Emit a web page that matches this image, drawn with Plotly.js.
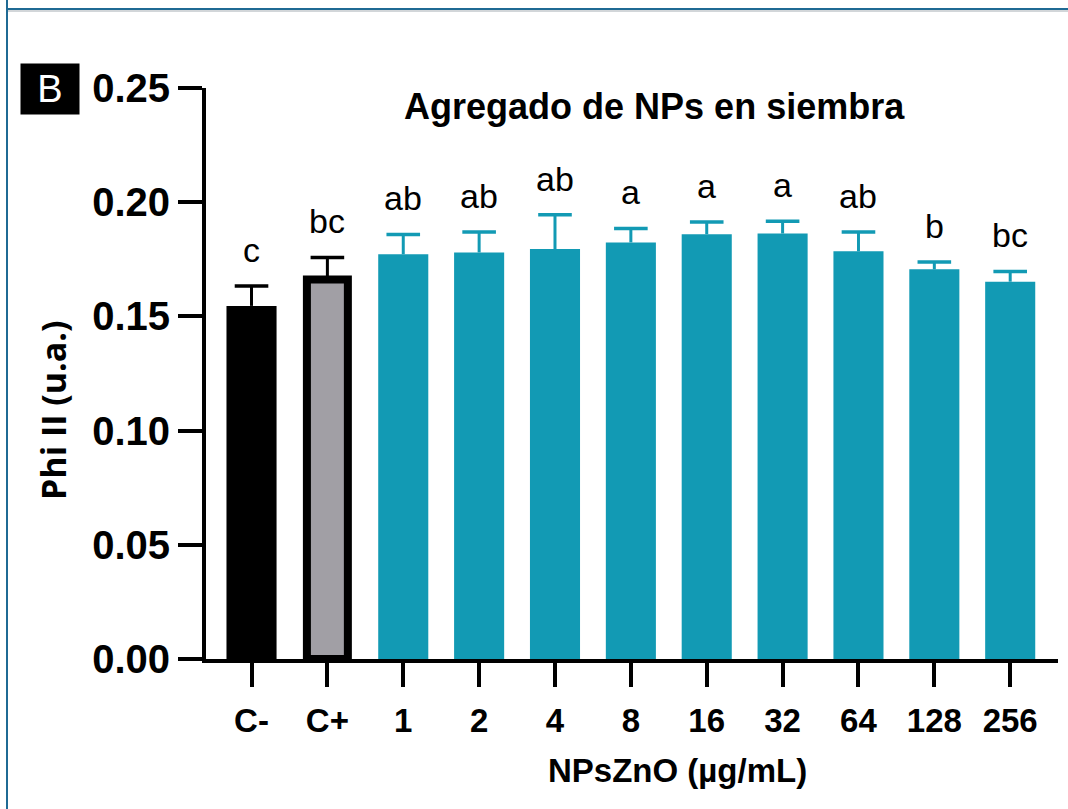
<!DOCTYPE html>
<html>
<head>
<meta charset="utf-8">
<script src="https://cdn.plot.ly/plotly-3.0.1.min.js"></script>
<style>
  html, body { margin: 0; padding: 0; background: #ffffff; }
  #wrap { position: relative; width: 1068px; height: 809px; overflow: hidden; }
  #chart { position: absolute; left: 0; top: 0; width: 1068px; height: 809px; }
  .frameTop { position: absolute; left: 6px; top: 8px; width: 1062px; height: 2px; background: #1f6a94; }
  .frameShadow { position: absolute; left: 8px; top: 10px; width: 1060px; height: 2px; background: #d2d6d9; }
  .frameLeft { position: absolute; left: 6px; top: 0px; width: 2px; height: 809px; background: #1f6a94; }
</style>
</head>
<body>
<div id="wrap">
  <div id="chart"></div>
  <div class="frameShadow"></div>
  <div class="frameTop"></div>
  <div class="frameLeft"></div>
</div>
<script>
// ---- data ----
var categories = ['C-', 'C+', '1', '2', '4', '8', '16', '32', '64', '128', '256'];
var means      = [0.1546, 0.1662, 0.1772, 0.1780, 0.1795, 0.1824, 0.1860, 0.1863, 0.1785, 0.1706, 0.1652];
var sems       = [0.0087, 0.0096, 0.0087, 0.0089, 0.0150, 0.0061, 0.0053, 0.0054, 0.0084, 0.0032, 0.0045];
var letters    = ['c', 'bc', 'ab', 'ab', 'ab', 'a', 'a', 'a', 'ab', 'b', 'bc'];
var yTickVals  = [0, 0.05, 0.10, 0.15, 0.20, 0.25];
var chartTitle = 'Agregado de NPs en siembra';
var xTitle     = 'NPsZnO (µg/mL)';
var yTitle     = 'Phi II (u.a.)';
var panelLabel = 'B';

var TEAL = '#129ab4';

// bars
var traces = [
  {
    type: 'bar', x: categories.slice(0, 1), y: means.slice(0, 1), width: 0.66,
    marker: { color: '#000000', line: { width: 0 } }, hoverinfo: 'x+y'
  },
  {
    type: 'bar', x: categories.slice(1, 2), y: means.slice(1, 2), width: 0.54,
    marker: { color: '#a19fa5', line: { width: 8, color: '#000000' } }, hoverinfo: 'x+y'
  },
  {
    type: 'bar', x: categories.slice(2), y: means.slice(2), width: 0.66,
    marker: { color: TEAL, line: { width: 0 } }, hoverinfo: 'x+y'
  }
];

// upward-only error bars (stem + cap), built from the data arrays
function errorTraces(i0, i1, color) {
  var sx = [], sy = [], cx = [], cy = [];
  for (var i = i0; i < i1; i++) {
    sx.push(categories[i], categories[i], null);
    sy.push(means[i], means[i] + sems[i], null);
    cx.push(categories[i]);
    cy.push(means[i] + sems[i]);
  }
  return [
    { type: 'scatter', mode: 'lines', x: sx, y: sy, line: { color: color, width: 3 }, hoverinfo: 'skip', connectgaps: false },
    { type: 'scatter', mode: 'markers', x: cx, y: cy, hoverinfo: 'skip',
      marker: { symbol: 'line-ew', size: 24, color: color, line: { color: color, width: 3.5 } } }
  ];
}
traces = traces.concat(errorTraces(0, 2, '#000000'), errorTraces(2, categories.length, TEAL));

// category positions by index (numeric strings like '1' would otherwise be read as indices)
var annotations = categories.map(function (c, i) {
  return {
    x: i, y: means[i] + sems[i], xref: 'x', yref: 'y',
    text: letters[i], showarrow: false, yanchor: 'bottom', yshift: 15,
    font: { family: 'Liberation Sans, Arial, sans-serif', size: 34, color: '#000000' }
  };
});

annotations.push({
  xref: 'paper', yref: 'paper', x: -0.1831, y: 0.998, xanchor: 'center', yanchor: 'middle',
  text: panelLabel, showarrow: false, bgcolor: '#000000', width: 56, height: 48,
  font: { family: 'Liberation Sans, Arial, sans-serif', size: 38, color: '#ffffff' }
});
annotations.push({
  xref: 'paper', yref: 'paper', x: -0.1796, y: 0.436, xanchor: 'center', yanchor: 'middle',
  text: '<b>' + yTitle + '</b>', textangle: -90, showarrow: false,
  font: { family: 'Open Sans, Arial, sans-serif', size: 34, color: '#000000' }
});
annotations.push({
  xref: 'paper', yref: 'paper', x: 0.553, y: -0.196, xanchor: 'center', yanchor: 'middle',
  text: '<b>' + xTitle + '</b>', showarrow: false,
  font: { family: 'Liberation Sans, Arial, sans-serif', size: 33, color: '#000000' }
});

var layout = {
  width: 1068, height: 809,
  margin: { l: 206, r: 10, t: 88, b: 150, pad: 0 },
  paper_bgcolor: 'rgba(0,0,0,0)', plot_bgcolor: 'rgba(0,0,0,0)',
  showlegend: false,
  barmode: 'overlay',
  title: {
    text: '<b>' + chartTitle + '</b>',
    xref: 'paper', yref: 'paper', x: 0.526, y: 0.968, xanchor: 'center', yanchor: 'middle',
    font: { family: 'Liberation Sans, Arial, sans-serif', size: 36, color: '#000000' }
  },
  xaxis: {
    type: 'category', range: [-0.6, 10.63],
    categoryorder: 'array', categoryarray: categories,
    showline: true, linewidth: 4, linecolor: '#000000',
    ticks: 'outside', ticklen: 24, tickwidth: 4, tickcolor: '#000000',
    ticklabelstandoff: 5,
    tickfont: { family: 'Liberation Sans, Arial, sans-serif', size: 33, color: '#000000', weight: 'bold' },
    showgrid: false, zeroline: false, fixedrange: true
  },
  yaxis: {
    range: [0, 0.25], tickvals: yTickVals, tickformat: '.2f',
    showline: true, linewidth: 4, linecolor: '#000000',
    ticks: 'outside', ticklen: 24, tickwidth: 4, tickcolor: '#000000',
    tickfont: { family: 'Liberation Sans, Arial, sans-serif', size: 40, color: '#000000', weight: 'bold' },
    showgrid: false, zeroline: false, fixedrange: true
  },
  annotations: annotations
};

Plotly.newPlot('chart', traces, layout, { displayModeBar: false, staticPlot: true });
</script>
</body>
</html>
